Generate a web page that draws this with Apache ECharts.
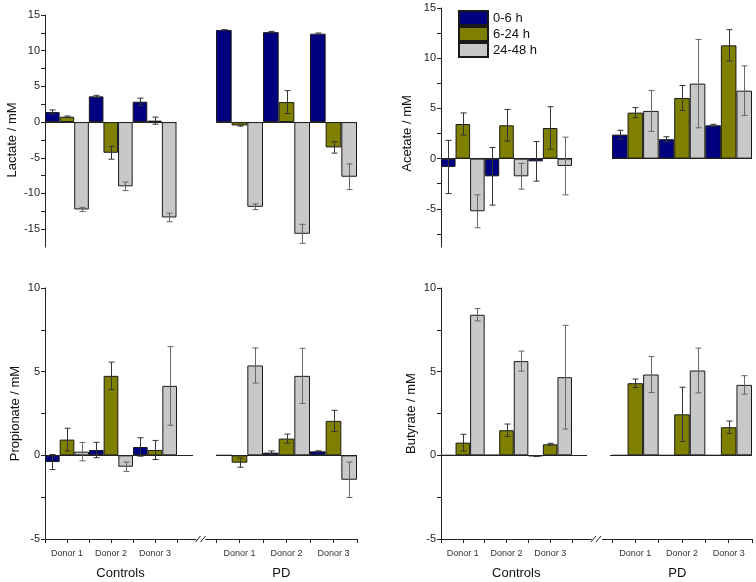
<!DOCTYPE html>
<html><head><meta charset="utf-8">
<script src="https://cdn.jsdelivr.net/npm/echarts@6/dist/echarts.min.js"></script>
<style>html,body{margin:0;padding:0;background:#fff}#c{width:756px;height:582px}</style>
</head><body><div id="c"></div>
<script>
// ---------- DATA ----------
const donors = ['Donor 1', 'Donor 2', 'Donor 3'];
const groups = ['Controls', 'PD'];
const periods = ['0-6 h', '6-24 h', '24-48 h'];

// values ordered: Controls D1, D2, D3, PD D1, D2, D3
const lactate_0_6    = [1.4, 3.6, 2.85, 12.9, 12.6, 12.38];
const lactate_0_6e   = [0.3, 0.15, 0.5, 0.05, 0.1, 0.1];
const lactate_6_24   = [0.75, -4.3, 0.2, -0.47, 2.8, -3.55];
const lactate_6_24e  = [0.1, 0.9, 0.5, 0.1, 1.6, 0.8];
const lactate_24_48  = [-12.24, -9.0, -13.36, -11.87, -15.65, -7.66];
const lactate_24_48e = [0.3, 0.6, 0.6, 0.4, 1.33, 1.8];

const acetate_0_6    = [-0.83, -1.76, -0.27, 2.39, 1.93, 3.32];
const acetate_0_6e   = [2.65, 2.87, 1.97, 0.43, 0.25, 0.1];
const acetate_6_24   = [3.45, 3.32, 3.05, 4.58, 6.04, 11.28];
const acetate_6_24e  = [1.1, 1.58, 2.12, 0.5, 1.24, 1.56];
const acetate_24_48  = [-5.24, -1.76, -0.73, 4.75, 7.47, 6.77];
const acetate_24_48e = [1.64, 1.28, 2.87, 2.04, 4.4, 2.47];

const propionate_0_6    = [-0.4, 0.32, 0.5, 0, 0.16, 0.24];
const propionate_0_6e   = [0.45, 0.46, 0.55, 0, 0.1, 0.03];
const propionate_6_24   = [0.94, 4.75, 0.32, -0.44, 1.0, 2.06];
const propionate_6_24e  = [0.68, 0.82, 0.57, 0.27, 0.27, 0.63];
const propionate_24_48  = [0.22, -0.68, 4.15, 5.37, 4.75, -1.46];
const propionate_24_48e = [0.55, 0.28, 2.35, 1.05, 1.65, 1.06];

const butyrate_0_6    = [0, 0.02, -0.05, 0, 0, 0];
const butyrate_0_6e   = [0, 0, 0.02, 0, 0, 0];
const butyrate_6_24   = [0.76, 1.5, 0.66, 4.31, 2.45, 1.68];
const butyrate_6_24e  = [0.5, 0.37, 0.06, 0.25, 1.62, 0.37];
const butyrate_24_48  = [8.4, 5.63, 4.67, 4.83, 5.07, 4.21];
const butyrate_24_48e = [0.37, 0.6, 3.1, 1.08, 1.34, 0.55];

// tick values / labels
const lactateTicks  = [-15, -12.5, -10, -7.5, -5, -2.5, 0, 2.5, 5, 7.5, 10, 12.5, 15];
const lactateLabels = [-15, -10, -5, 0, 5, 10, 15];
const acetateTicks  = [-7.5, -5, -2.5, 0, 2.5, 5, 7.5, 10, 12.5, 15];
const acetateLabels = [-5, 0, 5, 10, 15];
const bottomTicks   = [-5, -2.5, 0, 2.5, 5, 7.5, 10];
const bottomLabels  = [-5, 0, 5, 10];
const xTickPos      = [-0.5, 0, 0.5, 1, 1.5, 2, 2.5];
const xLabelPos     = [0, 1, 2];

// ---------- STYLE / LAYOUT ----------
const colors = ['#000080', '#808000', '#C8C8C8'];
const FONT = 'Liberation Sans, Arial, sans-serif';

const panels = [
  { name: 'Lactate / mM', vals: [lactate_0_6, lactate_6_24, lactate_24_48], errs: [lactate_0_6e, lactate_6_24e, lactate_24_48e],
    yMin: -17.5, yMax: 15, ticks: lactateTicks, labels: lactateLabels, bottomAxis: false,
    top: 15, bottom: 247, ctrl: [45, 176.5], ctrlAxisEnd: 176.5, ctrlZeroEnd: 176.5,
    pd: [216, 357], pdAxisStart: 216, pdZeroStart: 216, nameGap: 26, nameShift: 9 },
  { name: 'Acetate / mM', vals: [acetate_0_6, acetate_6_24, acetate_24_48], errs: [acetate_0_6e, acetate_6_24e, acetate_24_48e],
    yMin: -8.8, yMax: 15, ticks: acetateTicks, labels: acetateLabels, bottomAxis: false,
    top: 8, bottom: 247, ctrl: [441, 572], ctrlAxisEnd: 572, ctrlZeroEnd: 572,
    pd: [612, 752], pdAxisStart: 612, pdZeroStart: 612, nameGap: 27, nameShift: 6 },
  { name: 'Propionate / mM', vals: [propionate_0_6, propionate_6_24, propionate_24_48], errs: [propionate_0_6e, propionate_6_24e, propionate_24_48e],
    yMin: -5, yMax: 10, ticks: bottomTicks, labels: bottomLabels, bottomAxis: true,
    top: 288, bottom: 539, ctrl: [45, 177], ctrlAxisEnd: 196, ctrlZeroEnd: 193,
    pd: [216, 357], pdAxisStart: 205.5, pdZeroStart: 217, nameGap: 23, nameShift: 0 },
  { name: 'Butyrate / mM', vals: [butyrate_0_6, butyrate_6_24, butyrate_24_48], errs: [butyrate_0_6e, butyrate_6_24e, butyrate_24_48e],
    yMin: -5, yMax: 10, ticks: bottomTicks, labels: bottomLabels, bottomAxis: true,
    top: 288, bottom: 539, ctrl: [441, 572], ctrlAxisEnd: 591.5, ctrlZeroEnd: 587,
    pd: [612, 752], pdAxisStart: 602.5, pdZeroStart: 610, nameGap: 23, nameShift: 0 }
];

function errRender(params, api) {
  const xi = api.value(0), v = api.value(1), e = api.value(2), k = api.value(3);
  if (!e) return null;
  const band = api.size([1, 0])[0];
  const w = band / 3;
  const cx = Math.round(api.coord([xi, 0])[0] + (k - 1) * w) + 0.5;
  const yh = api.coord([xi, v + e])[1], yl = api.coord([xi, v - e])[1];
  const c = 3;
  const st = { stroke: k === 2 ? '#666' : '#333', lineWidth: 1 };
  return { type: 'group', children: [
    { type: 'line', shape: { x1: cx, y1: yh, x2: cx, y2: yl }, style: st },
    { type: 'line', shape: { x1: cx - c, y1: yh, x2: cx + c, y2: yh }, style: st },
    { type: 'line', shape: { x1: cx - c, y1: yl, x2: cx + c, y2: yl }, style: st }
  ] };
}

const grid = [], xAxis = [], yAxis = [], series = [], graphic = [];
panels.forEach((p) => {
  for (let g = 0; g < 2; g++) {
    const gi = grid.length;
    const bars = g === 0 ? p.ctrl : p.pd;
    const left = g === 0 ? p.ctrl[0] : p.pdAxisStart;
    const right = g === 0 ? p.ctrlAxisEnd : p.pd[1];
    const unit = (bars[1] - bars[0]) / 3;
    const xmin = -0.5 - (bars[0] - left) / unit;
    const xmax = xmin + (right - left) / unit;
    const toX = (px) => xmin + (px - left) / unit;
    const zs = g === 0 ? toX(p.ctrl[0]) : toX(p.pdZeroStart);
    const ze = g === 0 ? toX(p.ctrlZeroEnd) : toX(p.pd[1]);

    grid.push({ left: left, top: p.top, width: right - left, height: p.bottom - p.top });
    xAxis.push({
      type: 'value', gridIndex: gi, min: xmin, max: xmax, show: p.bottomAxis,
      axisLine: { onZero: false, lineStyle: { color: '#222', width: 1 } },
      axisTick: { show: true, customValues: xTickPos, length: 4, inside: false, lineStyle: { color: '#222' } },
      axisLabel: { customValues: xLabelPos, formatter: (v) => donors[Math.round(v)], fontSize: 9, color: '#333', margin: 10, fontFamily: FONT },
      splitLine: { show: false },
      name: groups[g], nameLocation: 'middle', nameGap: 28,
      nameTextStyle: { fontSize: 13, color: '#111', fontFamily: FONT }
    });
    yAxis.push({
      type: 'value', gridIndex: gi, min: p.yMin, max: p.yMax, show: g === 0,
      axisLine: { show: true, onZero: false, lineStyle: { color: '#222', width: 1 } },
      axisTick: { show: true, customValues: p.ticks, length: 4, lineStyle: { color: '#222' } },
      axisLabel: { customValues: p.labels, fontSize: 11, color: '#222', margin: 5, fontFamily: FONT },
      splitLine: { show: false },
      name: p.name, nameLocation: 'middle', nameGap: p.nameGap,
      nameTextStyle: { fontSize: 13, color: '#111', fontFamily: FONT, padding: [0, 2 * p.nameShift, 0, 0] }
    });
    for (let k = 0; k < 3; k++) {
      const s = {
        type: 'bar', name: periods[k], xAxisIndex: gi, yAxisIndex: gi,
        data: donors.map((d, i) => [i, p.vals[k][g * 3 + i]]),
        barGap: '0%', barCategoryGap: '0%',
        itemStyle: { color: colors[k], borderColor: '#1a1a1a', borderWidth: 1 },
        emphasis: { disabled: true }
      };
      series.push(s);
    }
    const edata = [];
    for (let k = 0; k < 3; k++) {
      donors.forEach((d, i) => edata.push([i, p.vals[k][g * 3 + i], p.errs[k][g * 3 + i], k]));
    }
    series.push({
      type: 'custom', xAxisIndex: gi, yAxisIndex: gi, renderItem: errRender,
      encode: { x: 0, y: 1 }, data: edata, z: 5, silent: true,
      markLine: {
        silent: true, symbol: ['none', 'none'], label: { show: false },
        lineStyle: { color: '#222', width: 1, type: 'solid' },
        emphasis: { disabled: true },
        data: [[{ coord: [zs, 0] }, { coord: [ze, 0] }]]
      }
    });
  }
  if (p.bottomAxis) {
    const y0 = p.bottom + 3, y1 = p.bottom - 3;
    const x0 = p.ctrlAxisEnd - 0.5;
    const st = { stroke: '#222', lineWidth: 1 };
    graphic.push({ type: 'line', shape: { x1: x0, y1: y0, x2: x0 + 5, y2: y1 }, style: st });
    graphic.push({ type: 'line', shape: { x1: x0 + 5, y1: y0, x2: x0 + 10, y2: y1 }, style: st });
  }
});

const chart = echarts.init(document.getElementById('c'), null, { renderer: 'canvas' });
chart.setOption({
  animation: false,
  backgroundColor: '#fff',
  textStyle: { fontFamily: FONT },
  legend: {
    data: periods, orient: 'vertical', left: 458, top: 10,
    itemWidth: 29, itemHeight: 14, itemGap: 0, icon: 'rect', selectedMode: false, padding: 0,
    textStyle: { fontSize: 13, color: '#111', fontFamily: FONT, lineHeight: 14 }
  },
  grid, xAxis, yAxis, series, graphic
});
</script></body></html>
